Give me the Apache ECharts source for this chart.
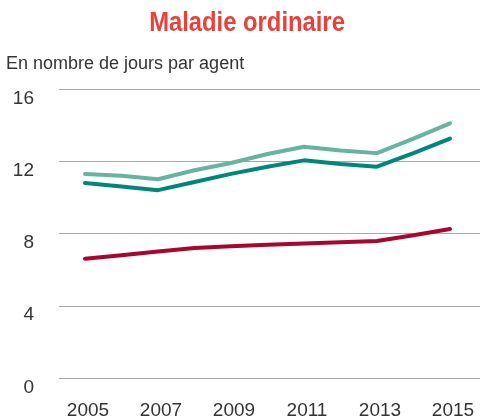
<!DOCTYPE html>
<html>
<head>
<meta charset="utf-8">
<script src="https://cdn.jsdelivr.net/npm/echarts@6/dist/echarts.min.js"></script>
<style>html,body{margin:0;padding:0;background:#fff}#c{width:480px;height:420px}</style>
</head>
<body>
<div id="c"></div>
<script>
var years = [2005, 2006, 2007, 2008, 2009, 2010, 2011, 2012, 2013, 2014, 2015];
var labelYears = [2005, 2007, 2009, 2011, 2013, 2015];
var yTicks = [0, 4, 8, 12, 16];
var lightTeal = [11.3, 11.2, 11.0, 11.5, 11.9, 12.4, 12.8, 12.6, 12.45, 13.25, 14.1];
var darkTeal = [10.8, 10.6, 10.4, 10.85, 11.3, 11.7, 12.05, 11.85, 11.7, 12.45, 13.25];
var redLine = [6.6, 6.8, 7.0, 7.2, 7.3, 7.38, 7.45, 7.52, 7.58, 7.9, 8.25];

function pairs(vals) { return years.map(function (y, i) { return [y, vals[i]]; }); }

var font = "'Liberation Sans', Arial, sans-serif";
var chart = echarts.init(document.getElementById('c'));
chart.setOption({
  animation: false,
  backgroundColor: '#fff',
  title: [
    { text: 'En nombre de jours par agent', left: 1, top: 50,
      textStyle: { fontFamily: font, fontWeight: 'normal', fontSize: 18, color: '#333' } }
  ],
  graphic: [
    { type: 'text', x: 247, y: 9, scaleX: 0.85,
      style: { text: 'Maladie ordinaire', fill: '#e8413a', textAlign: 'center', textVerticalAlign: 'top',
        font: "bold 28px 'Liberation Sans', Arial, sans-serif" } }
  ],
  grid: { left: 59, right: 0, top: 89, bottom: 42, containLabel: false },
  xAxis: {
    type: 'value', min: 2004.288, max: 2015.822,
    axisLine: { show: false }, axisTick: { show: false }, splitLine: { show: false },
    axisLabel: {
      customValues: labelYears, margin: 23, padding: [0, 0, 0, 6],
      fontFamily: font, fontSize: 19, color: '#333',
      formatter: function (v) { return String(v); }
    }
  },
  yAxis: {
    type: 'value', min: 0, max: 16, interval: 4,
    axisLine: { show: false }, axisTick: { show: false },
    splitLine: { lineStyle: { color: '#a8a8a8', width: 1 } },
    axisLabel: { margin: 25, verticalAlign: 'top', fontFamily: font, fontSize: 19, color: '#333',
      customValues: yTicks }
  },
  series: [
    { type: 'line', data: pairs(lightTeal), symbol: 'none', lineStyle: { color: '#66b3a0', width: 4, cap: 'round' } },
    { type: 'line', data: pairs(darkTeal), symbol: 'none', lineStyle: { color: '#00877a', width: 4, cap: 'round' } },
    { type: 'line', data: pairs(redLine), symbol: 'none', lineStyle: { color: '#a8052f', width: 4, cap: 'round' } }
  ]
});
</script>
</body>
</html>
